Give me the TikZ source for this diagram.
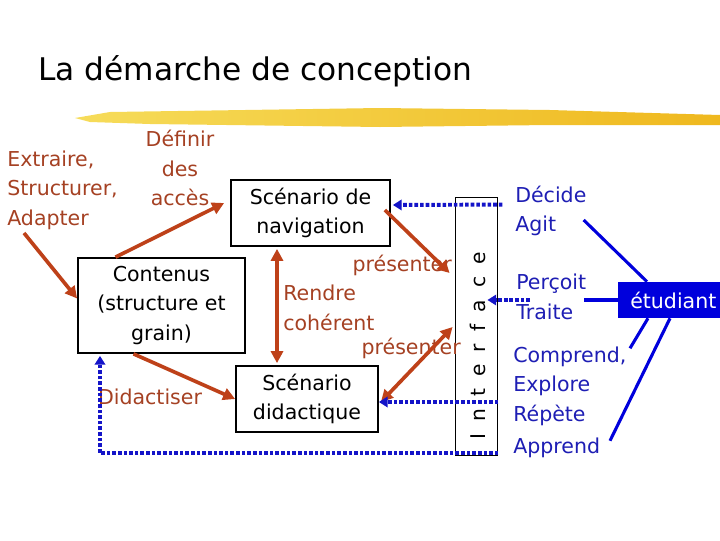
\documentclass[tikz,border=0pt]{standalone}
\usepackage{fontspec}
\setmainfont{DejaVu Sans}
\newfontfamily\spacedfont[LetterSpace=60]{DejaVu Sans}
\usepackage{tikz}
\usetikzlibrary{arrows.meta,calc}
\definecolor{TextBrown}{HTML}{A54123}
\definecolor{ArrowBrown}{HTML}{BE4119}
\definecolor{TextBlue}{HTML}{1E1EB4}
\definecolor{DotBlue}{HTML}{1414C8}
\definecolor{FillBlue}{HTML}{0000DC}
\definecolor{StripeLight}{HTML}{F6DC5A}
\definecolor{StripeDark}{HTML}{EFB81E}

\begin{document}
\begin{tikzpicture}[
        x=0.025cm, y=-0.025cm,
        font=\fontsize{14.6}{21}\selectfont,
        brown/.style={text=TextBrown, inner sep=0pt},
        blue/.style={text=TextBlue, inner sep=0pt, align=left},
        stage/.style={
            draw=black,
            line width=1.2pt,
            align=center,
            inner sep=0pt
        },
        rarr/.style={-{Triangle[length=3mm,width=3mm]}, line width=2.6pt, draw=ArrowBrown},
        rrarr/.style={{Triangle[length=3mm,width=3mm]}-{Triangle[length=3mm,width=3mm]}, line width=2.6pt, draw=ArrowBrown},
        darr/.style={-{Triangle[length=2.2mm,width=2.6mm]}, line width=2.8pt, draw=DotBlue, dash pattern=on 2.6pt off 1.4pt},
        bline/.style={line width=2.2pt, draw=FillBlue}
    ]
        \useasboundingbox (0,0) rectangle (720,540);

        % title and yellow stroke
        \node[anchor=base west, inner sep=0pt, font=\fontsize{22.2}{26}\selectfont] (title) at (38,80) {La démarche de conception};
        \shade[left color=StripeLight, right color=StripeDark]
            (75,118) -- (110,112) -- (380,108) -- (550,110) -- (720,115)
            -- (720,125) -- (550,125) -- (380,127) -- (150,124) -- (90,122) -- cycle;

        % boxes
        \node[stage, minimum width=3.975cm, minimum height=1.65cm] (nav) at (310.5,213) {Scénario de\\navigation};
        \node[stage, minimum width=4.175cm, minimum height=2.375cm] (cont) at (161.5,305.5) {Contenus\\(structure et\\grain)};
        \node[stage, minimum width=3.55cm, minimum height=1.65cm] (didac) at (307,399) {Scénario\\didactique};
        \node[draw=black, line width=0.6pt, minimum width=1.05cm, minimum height=6.45cm, inner sep=0pt] (iface) at (476,326) {};
        \node[rotate=90, inner sep=0pt, font=\spacedfont\fontsize{14.4}{17}\selectfont] (ifacetxt) at (478,346) {Interface};

        % brown labels
        \node[brown, anchor=west, align=left] (extr) at (7,190) {Extraire,\\Structurer,\\Adapter};
        \node[brown, align=center] (defin) at (180,168) {Définir\\des\\accès};
        \node[brown] (didtxt) at (150,397) {Didactiser};
        \node[brown, anchor=east] (pres1) at (452,265) {présenter};
        \node[brown, anchor=west, align=left] (rendre) at (283,308) {Rendre\\cohérent};
        \node[brown, anchor=east] (pres2) at (461,348) {présenter};

        % student side
        \node[blue, anchor=west] (decide) at (515,211) {Décide\\Agit};
        \node[blue, anchor=west] (percoit) at (516,297) {Perçoit\\Traite};
        \node[blue, anchor=west] (comprend) at (513,386) {Comprend,\\Explore\\Répète};
        \node[blue, anchor=west] (apprend) at (513,448) {Apprend};
        \node[fill=FillBlue, text=white, anchor=west, minimum width=2.75cm, minimum height=0.9cm, inner sep=0pt] (etud) at (618,300) {étudiant};

        % brown arrows
        \coordinate (exfoot) at (24,233);
        \draw[rarr] (exfoot) -- ($(cont.west)+(0,-7)$);
        \draw[rarr] ($(cont.north)+(-46,0)$) -- ($(nav.west)+(-6,-10)$);
        \draw[rarr] ($(cont.south)+(-28,0)$) -- (didac.west);
        \draw[rrarr] ($(nav.south)+(-33.5,2)$) -- ($(didac.north)+(-30,-2)$);
        \draw[rarr] ($(nav.east)+(-6,-3)$) -- ($(iface.west)+(-5,-53)$);
        \draw[rrarr] ($(didac.east)+(2,3)$) -- ($(iface.west)+(-2,1)$);

        % blue dotted links
        \draw[darr] ($(iface.north east)+(5,8)$) -- ($(nav.east)+(2,-8)$);
        \draw[darr] ($(percoit.west)+(14,3)$) -- ($(iface.east)+(-10,-26)$);
        \draw[darr] ($(iface.east)+(1,76)$) -- ($(didac.east)+(0,3)$);
        \draw[darr] ($(iface.south east)+(1,-2)$) -| ($(cont.south)+(-61.5,2)$);

        % blue solid links to the student
        \draw[bline] ($(decide.east)+(-3,9)$) -- ($(etud.north west)+(29,0)$);
        \draw[bline] ($(percoit.east)+(-2,3)$) -- (etud.west);
        \draw[bline] ($(comprend.north west)+(117,2)$) -- ($(etud.south west)+(30,0)$);
        \draw[bline] ($(comprend.south west)+(97,15)$) -- ($(etud.south west)+(52,0)$);
    \end{tikzpicture}
\end{document}
